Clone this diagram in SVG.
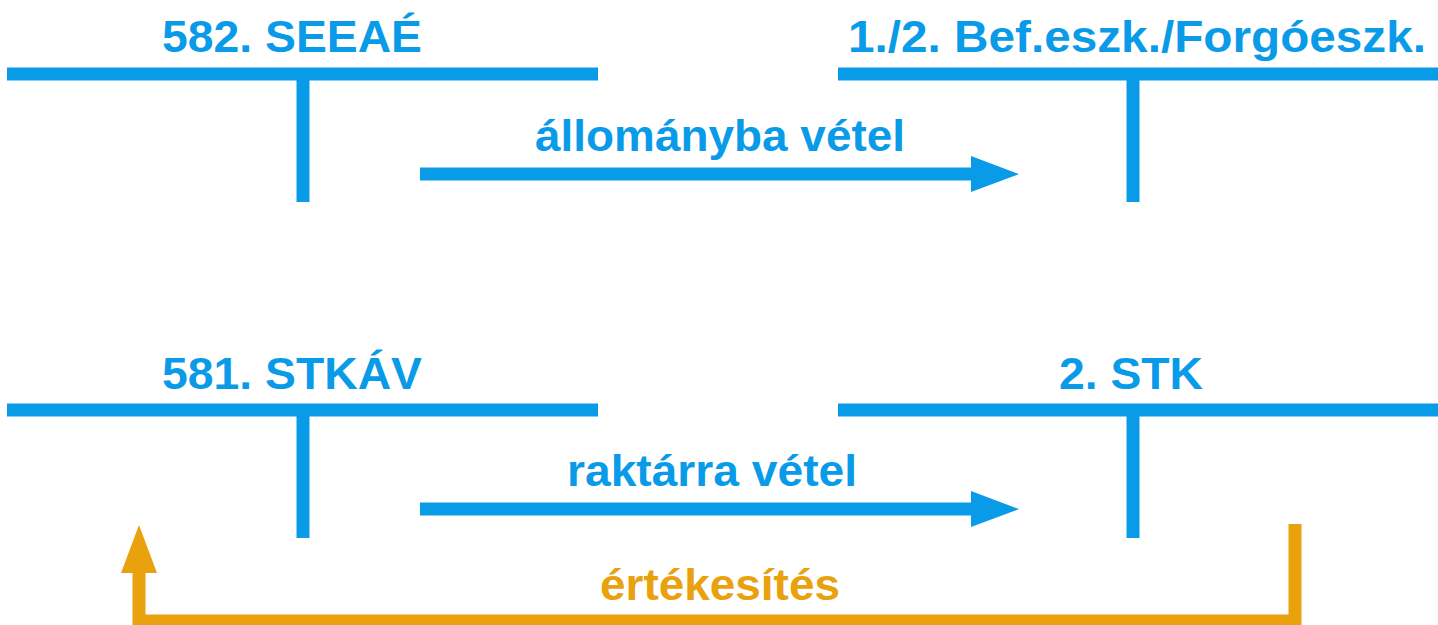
<svg xmlns="http://www.w3.org/2000/svg" width="1438" height="625" viewBox="0 0 1438 625">
<style>
.t{font-family:"Liberation Sans",Arial,sans-serif;font-weight:bold;font-size:44px;text-anchor:middle}
.b{fill:#0A9BE8}
.o{fill:#E9A10E}
.bl{stroke:#0A9BE8;stroke-width:13;fill:none}
.ol{stroke:#E9A10E;stroke-width:13;fill:none}
</style>
<rect width="1438" height="625" fill="#fff"/>
<g id="acc582">
<text class="t b" x="292" y="52" textLength="260" lengthAdjust="spacingAndGlyphs">582. SEEAÉ</text>
<line class="bl" x1="7" y1="74" x2="598" y2="74"/>
<line class="bl" x1="303" y1="74" x2="303" y2="202"/>
</g>
<g id="acc12">
<text class="t b" x="1137" y="52" textLength="578" lengthAdjust="spacingAndGlyphs">1./2. Bef.eszk./Forgóeszk.</text>
<line class="bl" x1="838" y1="74" x2="1438" y2="74"/>
<line class="bl" x1="1133" y1="74" x2="1133" y2="202"/>
</g>
<g id="acc581">
<text class="t b" x="292" y="389" textLength="260" lengthAdjust="spacingAndGlyphs">581. STKÁV</text>
<line class="bl" x1="7" y1="410" x2="598" y2="410"/>
<line class="bl" x1="303" y1="410" x2="303" y2="538"/>
</g>
<g id="acc2">
<text class="t b" x="1131" y="389" textLength="144" lengthAdjust="spacingAndGlyphs">2. STK</text>
<line class="bl" x1="838" y1="410" x2="1438" y2="410"/>
<line class="bl" x1="1133" y1="410" x2="1133" y2="538"/>
</g>
<g id="connectors">
<line class="bl" x1="420" y1="174" x2="980" y2="174"/>
<polygon class="b" points="971,156 1019,174 971,192"/>
<text class="t b" x="720" y="151" textLength="370" lengthAdjust="spacingAndGlyphs">állományba vétel</text>
<line class="bl" x1="420" y1="509" x2="980" y2="509"/>
<polygon class="b" points="971,491 1019,509 971,527"/>
<text class="t b" x="712" y="486" textLength="290" lengthAdjust="spacingAndGlyphs">raktárra vétel</text>
<polyline class="ol" points="1295,524 1295,621 139,621 139,566"/>
<polygon class="o" points="121,573 139,525 157,573"/>
<text class="t o" x="720" y="600" textLength="240" lengthAdjust="spacingAndGlyphs">értékesítés</text>
</g>
</svg>
